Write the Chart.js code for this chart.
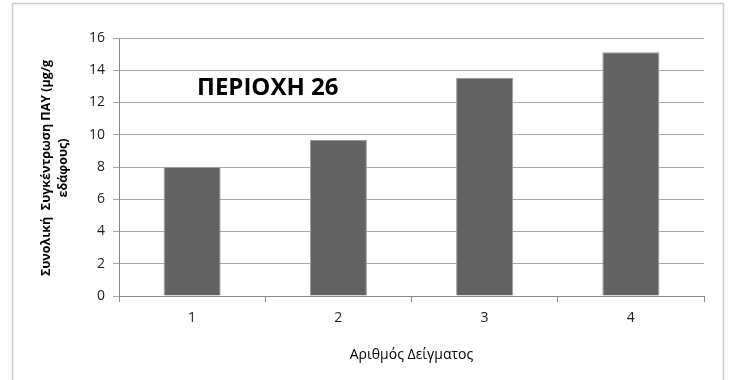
<!DOCTYPE html>
<html>
<head>
<meta charset="utf-8">
<script src="https://cdn.jsdelivr.net/npm/chart.js@4/dist/chart.umd.min.js"></script>
<style>
  html, body { margin: 0; padding: 0; background: #fff; }
  #wrap { width: 731px; height: 380px; }
</style>
</head>
<body>
<div id="wrap"><canvas id="c" width="731" height="380"></canvas></div>
<script>
// Sample numbers and total PAH concentration per sample
const categories = ['1', '2', '3', '4'];
const concentration = [8.0, 9.67, 13.53, 15.11];
const yTicks = [0, 2, 4, 6, 8, 10, 12, 14, 16];

const chartLabel = 'ΠΕΡΙΟΧΗ 26';
const xTitle = 'Αριθμός Δείγματος';
const yTitle = ['Συνολική  Συγκέντρωση ΠΑΥ (μg/g', 'εδάφους)'];

const FONT = "'Open Sans', 'Noto Sans', sans-serif";

// Frame around the chart, axis titles and the in-plot heading
const decorPlugin = {
  id: 'decor',
  beforeDraw(chart) {
    const ctx = chart.ctx;
    ctx.save();
    ctx.fillStyle = '#fff';
    ctx.fillRect(0, 0, chart.width, chart.height);
    ctx.strokeStyle = '#c8c8c8';
    ctx.lineWidth = 1.5;
    ctx.beginPath();
    ctx.moveTo(12.5, chart.height + 2);
    ctx.lineTo(12.5, 3.5);
    ctx.lineTo(723.5, 3.5);
    ctx.lineTo(723.5, chart.height + 2);
    ctx.stroke();
    ctx.restore();
  },
  afterDraw(chart) {
    const ctx = chart.ctx;
    const area = chart.chartArea;
    ctx.save();
    ctx.fillStyle = '#000';
    ctx.textBaseline = 'middle';

    // heading inside the plot
    ctx.font = "bold 24px " + FONT;
    ctx.textAlign = 'left';
    ctx.fillText(chartLabel, area.left + 78, area.top + 50);

    // x axis title
    ctx.font = "14px " + FONT;
    ctx.textAlign = 'center';
    ctx.fillText(xTitle, (area.left + area.right) / 2, 355);

    // y axis title, two centred lines rotated
    ctx.font = "bold 12.5px " + FONT;
    ctx.translate(0, 168);
    ctx.rotate(-Math.PI / 2);
    ctx.fillText(yTitle[0], 0, 46);
    ctx.fillText(yTitle[1], 0, 63);
    ctx.restore();
  }
};

new Chart(document.getElementById('c'), {
  type: 'bar',
  data: {
    labels: categories,
    datasets: [{
      data: concentration,
      backgroundColor: '#626262',
      borderColor: '#9a9a9a',
      borderWidth: 1,
      barPercentage: 0.78,
      categoryPercentage: 0.5
    }]
  },
  options: {
    responsive: false,
    animation: false,
    devicePixelRatio: 1,
    layout: { padding: { left: 0, right: 27, top: 38, bottom: 0 } },
    plugins: {
      legend: { display: false },
      tooltip: { enabled: false }
    },
    scales: {
      x: {
        afterFit(scale) { scale.height = 84; },
        grid: { display: true, drawOnChartArea: false, drawTicks: true, tickLength: 6, color: '#888' },
        border: { color: '#888', width: 1 },
        ticks: { color: '#222', font: { family: FONT, size: 14 }, padding: 8 }
      },
      y: {
        min: 0,
        max: 16,
        afterFit(scale) { scale.width = 119; },
        afterBuildTicks(axis) { axis.ticks = yTicks.map(v => ({ value: v })); },
        grid: { color: '#a8a8a8', drawTicks: true, tickLength: 6 },
        border: { color: '#888', width: 1 },
        ticks: { color: '#222', font: { family: FONT, size: 14 }, padding: 8 }
      }
    }
  },
  plugins: [decorPlugin]
});
</script>
</body>
</html>
